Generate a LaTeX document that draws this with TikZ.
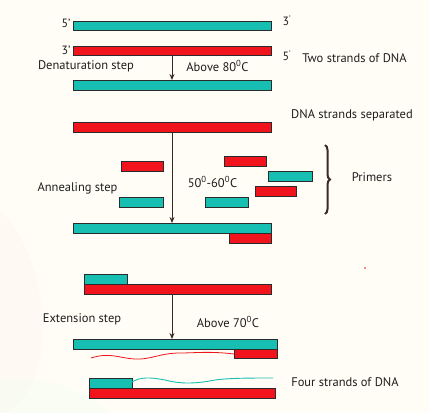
\documentclass[tikz,border=0pt]{standalone}
\usepackage{fontspec}
\setmainfont{PT Sans}
\usetikzlibrary{arrows.meta,decorations.pathreplacing}
\definecolor{bgc}{HTML}{FFFDF6}
\definecolor{tealc}{HTML}{17BFB3}
\definecolor{redc}{HTML}{F2141C}
\definecolor{edgec}{HTML}{2B2B2B}
\definecolor{arrc}{HTML}{3A2A22}
\definecolor{txt}{HTML}{1E1E1E}
\tikzset{
  bar/.style={draw=edgec, line width=0.9pt, inner sep=0pt, outer sep=0pt, anchor=north west},
  tbar/.style={bar, fill=tealc},
  rbar/.style={bar, fill=redc},
  lbl/.style={text=txt, font=\fontsize{12.5}{14}\selectfont, inner sep=0pt},
  end/.style={text=txt, font=\fontsize{12}{13}\selectfont, inner sep=0pt},
  arr/.style={draw=arrc, line width=0.9pt, -{Stealth[length=6pt,width=5pt]}},
}
\newcommand{\barnode}[6]{% style, name, x1, y1, x2, y2
  \node[#1, minimum width=#5pt-#3pt, minimum height=#6pt-#4pt] (#2) at (#3,#4) {};}
\begin{document}
\begin{tikzpicture}[x=1pt, y=-1pt]
\fill[bgc] (0,0) rectangle (429,413);
\useasboundingbox (0,0) rectangle (429,413);
% faint watercolor tint at left
\fill[red!6, opacity=0.3] (0,210) .. controls (30,240) and (50,300) .. (40,360) .. controls (30,400) and (10,413) .. (0,413) -- cycle;
\fill[green!8, opacity=0.25] (0,380) .. controls (40,370) and (90,395) .. (110,413) -- (0,413) -- cycle;

% Initial double strand
\barnode{tbar}{t1}{73}{21}{271}{30}
\barnode{rbar}{r1}{73}{46}{271}{55}
\node[end] (l5a) at (66,23) {5’};
\node[end] (r3a) at (287,21) {3\textsuperscript{’}};
\node[end] (l3a) at (66,50) {3’};
\node[end] (r5a) at (287,56) {5\textsuperscript{’}};
\node[lbl] (two) at (354.5,58) {Two strands of DNA};
\node[lbl] (den) at (86,66) {Denaturation step};
\node[lbl] (a80) at (217.5,66) {Above 80\textsuperscript{0}C};

% Separated strands
\barnode{tbar}{t2}{73}{80}{271}{90}
\barnode{rbar}{r2}{73}{122}{271}{132}
\node[lbl] (sep) at (352,115) {DNA strands separated};
\draw[arr] (r1.south) -- (t2.north);

% Primers
\barnode{rbar}{pa}{121}{161}{163}{171}
\barnode{rbar}{pb}{224}{156}{266}{166}
\barnode{tbar}{pc}{268}{171}{312}{181}
\barnode{rbar}{pd}{255}{186}{296}{196}
\barnode{tbar}{pe}{119}{197}{163}{207}
\barnode{tbar}{pf}{205}{197}{248}{207}
\node[lbl] (ann) at (77.5,188) {Annealing step};
\node[lbl] (t50) at (212.5,182) {50\textsuperscript{0}-60\textsuperscript{0}C};
\draw[draw=arrc, line width=2pt, decorate, decoration={brace, amplitude=5pt, aspect=0.5}] (325,145) -- (325,214);
\node[lbl] (prim) at (372,177) {Primers};

% Annealed
\barnode{tbar}{t3}{73}{223}{271}{233}
\barnode{rbar}{r3}{229}{233}{271}{243}
\draw[arr] (r2.south) -- (t3.north);
\fill[redc] (365,268) circle (0.8);

% Second annealed pair
\barnode{tbar}{t4}{84}{274}{127}{284}
\barnode{rbar}{r4}{84}{284}{271}{294}
\node[lbl] (ext) at (82,319) {Extension step};
\node[lbl] (a70) at (228,322) {Above 70\textsuperscript{0}C};

% Extended
\barnode{tbar}{t5}{73}{339}{277}{349}
\barnode{rbar}{r5}{234}{349}{277}{358}
\draw[arr] (r4.south -| r1.south) -- (t5.north -| r1.south);
\draw[redc, line width=0.8pt] (r5.west) ++(0,0.5) .. controls (210,351) and (195,353) .. (180,353)
  .. controls (160,353) and (150,360) .. (135,359)
  .. controls (118,358) and (110,352) .. (91,358);

\barnode{tbar}{t6}{89}{378}{132}{388}
\barnode{rbar}{r6}{89}{388}{275}{398}
\draw[tealc, line width=0.9pt] (t6.east) ++(0,-1) .. controls (140,377) and (150,377) .. (165,380)
  .. controls (180,384) and (195,384) .. (215,380)
  .. controls (230,378) and (250,378) .. (273,378);
\node[lbl] (four) at (345,382) {Four strands of DNA};
\end{tikzpicture}
\end{document}
